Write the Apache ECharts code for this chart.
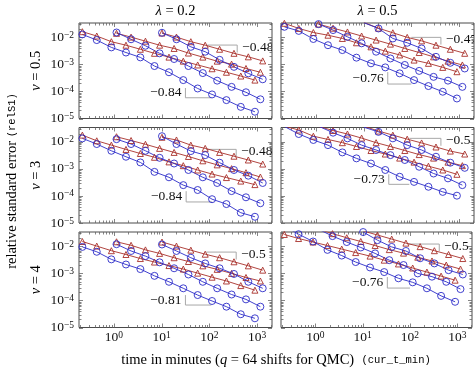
<!DOCTYPE html>
<html>
<head>
<meta charset="utf-8">
<script src="https://cdn.jsdelivr.net/npm/echarts@6/dist/echarts.min.js"></script>
<style>
html, body { margin: 0; padding: 0; background: #fff; }
#chart { width: 475px; height: 372px; }
</style>
</head>
<body>
<div id="chart"></div>
<script>
const SERIF = "'Liberation Serif', 'DejaVu Serif', serif";
const MONO = "'Liberation Mono', 'DejaVu Sans Mono', monospace";
const RED = "#a8302a";
const BLUE = "#2b2bc8";
const GRAY = "#a8a8a8";
const FRAME = "#4a4a4a";

// run times in minutes (three runs, sample size doubled at every step)
const timesA = [0.22, 0.44, 0.89, 1.8, 3.6, 7.1, 14.3, 28.5, 57, 114, 228, 455, 900];
const timesB = [1.14, 2.3, 4.6, 9.1, 18.3, 36.5, 73, 146, 292, 585, 1170];
const timesC = [10.2, 20.5, 41, 82, 164, 328, 655, 1310];

const lambdas = ["0.2", "0.5"];
const nus = ["0.5", "3", "4"];

// log10 of relS1, one row per run (A, B, C)
const mc_n05_l02 = [
  [-1.79, -1.95, -2.16, -2.29, -2.44, -2.59, -2.73, -2.88, -3.02, -3.16, -3.29, -3.43, -3.58],
  [-1.85, -1.99, -2.14, -2.29, -2.41, -2.58, -2.73, -2.88, -2.99, -3.15, -3.29],
  [-1.84, -1.99, -2.16, -2.29, -2.44, -2.59, -2.72, -2.87],
];
const qmc_n05_l02 = [
  [-1.89, -2.10, -2.37, -2.56, -2.74, -3.06, -3.29, -3.58, -3.89, -4.11, -4.32, -4.57, -4.75],
  [-1.82, -2.07, -2.31, -2.59, -2.80, -3.06, -3.32, -3.60, -3.83, -4.03, -4.29],
  [-1.83, -2.07, -2.35, -2.53, -2.83, -3.09, -3.33, -3.55],
];
const mc_n05_l05 = [
  [-1.48, -1.67, -1.82, -1.92, -2.04, -2.20, -2.35, -2.51, -2.65, -2.84, -2.96, -3.11, -3.27],
  [-1.51, -1.66, -1.80, -1.95, -2.10, -2.25, -2.41, -2.56, -2.72, -2.88, -3.02],
  [-1.45, -1.66, -1.83, -2.00, -2.13, -2.29, -2.44, -2.59],
];
const qmc_n05_l05 = [
  [-1.61, -1.76, -2.06, -2.29, -2.47, -2.75, -2.96, -3.11, -3.33, -3.58, -3.80, -4.01, -4.26],
  [-1.51, -1.73, -1.98, -2.22, -2.53, -2.78, -3.02, -3.24, -3.46, -3.60, -3.83],
  [-1.46, -1.67, -2.04, -2.20, -2.41, -2.72, -2.94, -3.15],
];
const mc_n3_l02 = [
  [-1.75, -1.96, -2.12, -2.28, -2.43, -2.57, -2.74, -2.88, -3.04, -3.19, -3.32, -3.45, -3.58],
  [-1.81, -1.95, -2.09, -2.24, -2.39, -2.54, -2.70, -2.85, -2.99, -3.14, -3.30],
  [-1.83, -1.93, -2.12, -2.24, -2.39, -2.53, -2.67, -2.82],
];
const qmc_n3_l02 = [
  [-1.87, -2.08, -2.33, -2.55, -2.76, -3.11, -3.31, -3.60, -3.78, -4.12, -4.30, -4.62, -4.77],
  [-1.90, -2.08, -2.33, -2.59, -2.80, -3.04, -3.31, -3.52, -3.82, -4.05, -4.27],
  [-1.79, -2.08, -2.34, -2.49, -2.77, -3.04, -3.25, -3.52],
];
const mc_n3_l05 = [
  [-1.42, -1.56, -1.79, -1.91, -2.03, -2.17, -2.32, -2.45, -2.60, -2.75, -2.90, -3.04, -3.20],
  [-1.43, -1.58, -1.71, -1.86, -2.03, -2.17, -2.32, -2.47, -2.60, -2.75, -2.88],
  [-1.42, -1.60, -1.75, -1.90, -2.04, -2.19, -2.34, -2.45],
];
const qmc_n3_l05 = [
  [-1.43, -1.71, -1.93, -2.12, -2.39, -2.61, -2.80, -3.04, -3.29, -3.48, -3.66, -3.85, -3.99],
  [-1.42, -1.66, -1.87, -2.12, -2.30, -2.49, -2.67, -2.92, -3.17, -3.35, -3.60],
  [-1.46, -1.63, -1.87, -2.12, -2.30, -2.55, -2.77, -2.96],
];
const mc_n4_l02 = [
  [-1.82, -1.99, -2.16, -2.30, -2.45, -2.58, -2.71, -2.84, -2.99, -3.14, -3.28, -3.45, -3.62],
  [-1.83, -1.96, -2.13, -2.26, -2.42, -2.56, -2.72, -2.85, -3.00, -3.15, -3.28],
  [-1.84, -1.99, -2.14, -2.29, -2.42, -2.57, -2.72, -2.88],
];
const qmc_n4_l02 = [
  [-2.02, -2.20, -2.48, -2.67, -2.84, -3.09, -3.31, -3.55, -3.80, -4.02, -4.23, -4.51, -4.66],
  [-1.92, -2.17, -2.36, -2.59, -2.81, -3.04, -3.31, -3.55, -3.78, -3.96, -4.23],
  [-1.93, -2.17, -2.42, -2.63, -2.81, -3.02, -3.31, -3.55],
];
const mc_n4_l05 = [
  [-1.56, -1.71, -1.84, -1.97, -2.10, -2.23, -2.36, -2.51, -2.65, -2.80, -2.95, -3.10, -3.25],
  [-1.36, -1.53, -1.68, -1.82, -1.97, -2.12, -2.25, -2.40, -2.54, -2.69, -2.84],
  [-1.43, -1.58, -1.73, -1.88, -2.01, -2.16, -2.30, -2.45],
];
const qmc_n4_l05 = [
  [-1.25, -1.55, -1.82, -2.13, -2.34, -2.58, -2.78, -2.95, -3.18, -3.33, -3.55, -3.83, -4.05],
  [-1.36, -1.62, -1.84, -2.04, -2.26, -2.51, -2.69, -3.00, -3.12, -3.31, -3.58],
  [-1.47, -1.77, -2.02, -2.17, -2.44, -2.63, -2.88, -3.04],
];

// slope guides: [x from, x to, y top, y bottom, label]
const slopeMC = [
  [90.8, 383, 5.19e-3, 2.74e-3, "−0.48"],
  [100, 416, 1.0e-2, 5.42e-3, "−0.47"],
  [86.6, 365, 5.28e-3, 2.99e-3, "−0.48"],
  [90.8, 416, 1.35e-2, 7.17e-3, "−0.5"],
  [86.6, 365, 6.15e-3, 3.25e-3, "−0.5"],
  [90.8, 416, 1.22e-2, 6.7e-3, "−0.5"],
];
const slopeQMC = [
  [31.6, 110, 1.34e-4, 5.85e-5, "−0.84"],
  [32.1, 100, 5.21e-4, 1.88e-4, "−0.76"],
  [32.7, 115, 1.5e-4, 6.0e-5, "−0.84"],
  [33.7, 90.8, 6.3e-4, 2.69e-4, "−0.73"],
  [31.6, 110, 1.58e-4, 6.77e-5, "−0.81"],
  [33.2, 100, 7.33e-4, 2.87e-4, "−0.76"],
];

const xMajor = [1, 10, 100, 1000];
const yMajor = [1e-5, 1e-4, 1e-3, 1e-2];
const X_MIN = 0.187, X_MAX = 2050;
const Y_MIN = 1e-5, Y_MAX = 0.034;

// panel order: row (nu) by column (lambda)
const panels = [
  { mc: mc_n05_l02, qmc: qmc_n05_l02 },
  { mc: mc_n05_l05, qmc: qmc_n05_l05 },
  { mc: mc_n3_l02, qmc: qmc_n3_l02 },
  { mc: mc_n3_l05, qmc: qmc_n3_l05 },
  { mc: mc_n4_l02, qmc: qmc_n4_l02 },
  { mc: mc_n4_l05, qmc: qmc_n4_l05 },
];
const runs = [timesA, timesB, timesC];

const gridLeft = [79, 281];
const gridTop = [23, 127.5, 232];
const gridW = 193, gridH = 95.5;

function minorTicks(lo, hi) {
  const out = [];
  for (let d = 1e-6; d < 1e5; d *= 10) {
    for (let m = 2; m <= 9; m++) {
      const v = m * d;
      if (v > lo && v < hi) out.push(v);
    }
  }
  return out;
}
const xMinor = minorTicks(X_MIN, X_MAX);
const yMinor = minorTicks(Y_MIN, Y_MAX);

function powLabel(v) {
  const e = Math.log10(v);
  const r = Math.round(e);
  if (Math.abs(e - r) > 1e-6) return "";
  return "{b|10}{s|" + (r < 0 ? "−" + -r : r) + "}";
}

const tickRich = {
  b: { fontFamily: SERIF, fontSize: 13.5, lineHeight: 14, verticalAlign: "bottom", color: "#111" },
  s: { fontFamily: SERIF, fontSize: 9.5, lineHeight: 10, padding: [0, 0, 7, 0], verticalAlign: "top", color: "#111" },
};

const grids = [], xAxes = [], yAxes = [], series = [];

for (let i = 0; i < 6; i++) {
  const r = Math.floor(i / 2), c = i % 2;
  grids.push({
    left: gridLeft[c], top: gridTop[r], width: gridW, height: gridH,
    show: true, borderColor: FRAME, borderWidth: 1, backgroundColor: "transparent",
  });
  xAxes.push({
    type: "log", logBase: 10, gridIndex: i, min: X_MIN, max: X_MAX,
    axisLine: { show: false }, axisTick: { show: false }, splitLine: { show: false },
    axisLabel: { show: r === 2, formatter: powLabel, margin: 3, rich: tickRich },
  });
  yAxes.push({
    type: "log", logBase: 10, gridIndex: i, min: Y_MIN, max: Y_MAX,
    axisLine: { show: false }, axisTick: { show: false }, splitLine: { show: false },
    axisLabel: { show: c === 0, formatter: powLabel, margin: 5, rich: tickRich },
  });

  // slope guides with their labels, clipped to the panel
  const guides = [slopeMC[i], slopeQMC[i]];
  series.push({
    type: "custom", xAxisIndex: i, yAxisIndex: i, clip: true, silent: true,
    data: [[guides[0][0], guides[0][2]], [guides[1][0], guides[1][2]]],
    renderItem: (params, api) => {
      const s = guides[params.dataIndex];
      const a = api.coord([s[0], s[2]]);
      const b = api.coord([s[1], s[3]]);
      const upper = params.dataIndex === 0;
      const pts = upper ? [[a[0], a[1]], [b[0], a[1]], [b[0], b[1]]]
                        : [[a[0], a[1]], [a[0], b[1]], [b[0], b[1]]];
      const midY = (a[1] + b[1]) / 2;
      return {
        type: "group",
        children: [
          { type: "polyline", shape: { points: pts }, style: { stroke: GRAY, fill: null, lineWidth: 1 } },
          {
            type: "text",
            x: upper ? b[0] + 5 : a[0] - 4,
            y: midY - (upper ? 1.5 : 0),
            style: {
              text: s[4], fill: "#111", font: "13.5px " + SERIF,
              align: upper ? "left" : "right", verticalAlign: "middle",
            },
          },
        ],
      };
    },
    z: 1,
  });

  runs.forEach((t, g) => {
    series.push({
      type: "line", xAxisIndex: i, yAxisIndex: i,
      data: t.map((x, k) => [x, Math.pow(10, panels[i].mc[g][k])]),
      symbol: "triangle", symbolSize: 6,
      lineStyle: { color: RED, width: 0.9 },
      itemStyle: { color: "rgba(255,255,255,0)", borderColor: RED, borderWidth: 0.9 },
      emphasis: { disabled: true }, z: 3,
    });
    series.push({
      type: "line", xAxisIndex: i, yAxisIndex: i,
      data: t.map((x, k) => [x, Math.pow(10, panels[i].qmc[g][k])]),
      symbol: "circle", symbolSize: 7,
      lineStyle: { color: BLUE, width: 0.9 },
      itemStyle: { color: "rgba(255,255,255,0)", borderColor: BLUE, borderWidth: 0.9 },
      emphasis: { disabled: true }, z: 3,
    });
  });

  // inward ticks on all four sides
  const tickData = [];
  xMajor.forEach((v) => tickData.push([v, 1e-3, 0, 1]));
  xMinor.forEach((v) => tickData.push([v, 1e-3, 0, 0]));
  yMajor.forEach((v) => tickData.push([1, v, 1, 1]));
  yMinor.forEach((v) => tickData.push([1, v, 1, 0]));
  series.push({
    type: "custom", xAxisIndex: i, yAxisIndex: i, silent: true,
    data: tickData,
    renderItem: (params, api) => {
      const cs = params.coordSys;
      const p = api.coord([api.value(0), api.value(1)]);
      const len = api.value(3) ? 4 : 2.5;
      const style = { stroke: "#666", lineWidth: 0.8 };
      if (api.value(2) === 0) {
        const x = Math.round(p[0]) + 0.5;
        return {
          type: "group",
          children: [
            { type: "line", shape: { x1: x, y1: cs.y, x2: x, y2: cs.y + len }, style },
            { type: "line", shape: { x1: x, y1: cs.y + cs.height, x2: x, y2: cs.y + cs.height - len }, style },
          ],
        };
      }
      const y = Math.round(p[1]) + 0.5;
      return {
        type: "group",
        children: [
          { type: "line", shape: { x1: cs.x, y1: y, x2: cs.x + len, y2: y }, style },
          { type: "line", shape: { x1: cs.x + cs.width, y1: y, x2: cs.x + cs.width - len, y2: y }, style },
        ],
      };
    },
    z: 2,
  });
}

const textRich = {
  n: { fontFamily: SERIF, fontSize: 14.5, color: "#111" },
  i: { fontFamily: SERIF, fontSize: 14.5, fontStyle: "italic", color: "#111" },
  m: { fontFamily: MONO, fontSize: 10.5, color: "#111" },
};

const graphic = [];
lambdas.forEach((l, c) => {
  graphic.push({
    type: "text", x: gridLeft[c] + gridW / 2, y: 11,
    style: { text: "{i|λ}{n| = " + l + "}", rich: textRich, align: "center", verticalAlign: "middle" },
  });
});
nus.forEach((n, r) => {
  graphic.push({
    type: "text", x: 36, y: gridTop[r] + gridH / 2, rotation: Math.PI / 2,
    style: { text: "{i|ν}{n| = " + n + "}", rich: textRich, align: "center", verticalAlign: "middle" },
  });
});
graphic.push({
  type: "text", x: 12, y: 181, rotation: Math.PI / 2,
  style: { text: "{n|relative standard error }{m|(relS1)}", rich: textRich, align: "center", verticalAlign: "middle" },
});
graphic.push({
  type: "text", x: 276, y: 360,
  style: {
    text: "{n|time in minutes (}{i|q}{n| = 64 shifts for QMC)  }{m|(cur_t_min)}",
    rich: textRich, align: "center", verticalAlign: "middle",
  },
});

const chart = echarts.init(document.getElementById("chart"), null, { renderer: "canvas" });
chart.setOption({
  animation: false,
  backgroundColor: "#fff",
  grid: grids,
  xAxis: xAxes,
  yAxis: yAxes,
  series,
  graphic,
});
</script>
</body>
</html>
